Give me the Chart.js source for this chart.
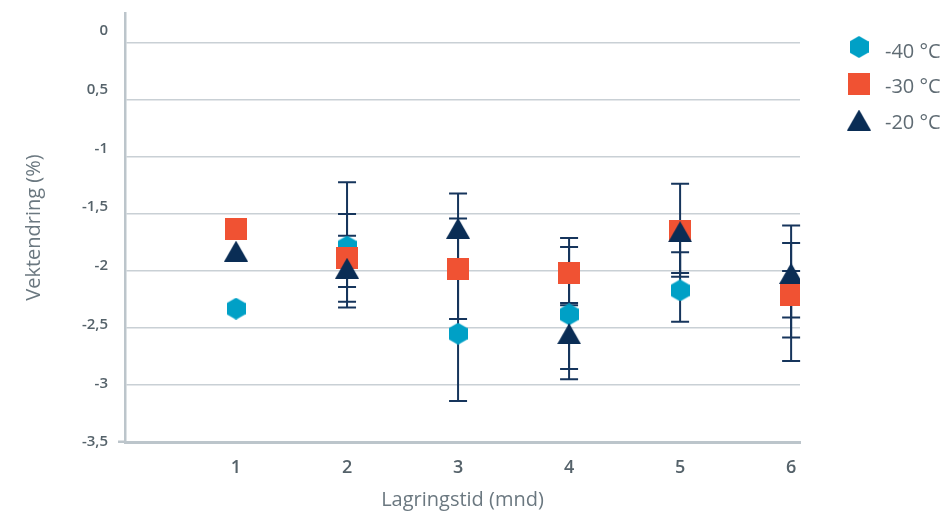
<!DOCTYPE html>
<html>
<head>
<meta charset="utf-8">
<script src="https://cdn.jsdelivr.net/npm/chart.js@4"></script>
<style>
  html, body { margin: 0; padding: 0; background: #fff; }
  #wrap { width: 948px; height: 515px; position: relative; }
</style>
</head>
<body>
<div id="wrap"><canvas id="chart"></canvas></div>
<script>
// ===== data =====
const months      = [1, 2, 3, 4, 5, 6];
const seriesNames = ['-40 °C', '-30 °C', '-20 °C'];

const minus40 = [-2.33, -1.785, -2.55, -2.38, -2.17, -2.21];
const minus30 = [-1.63, -1.885, -1.98, -2.02, -1.65, -2.21];
const minus20 = [-1.825, -1.975, -1.625, -2.55, -1.655, -2.02];

// error bar ends (high / low), null = no bar
const minus40Hi = [null, -1.22, -1.96, -1.79, -1.835, -1.6];
const minus40Lo = [null, -2.32, -3.14, -2.95, -2.445, -2.79];
const minus30Hi = [null, -1.5, -1.54, -1.71, -1.234, -1.753];
const minus30Lo = [null, -2.27, -2.42, -2.30, -2.05, -2.583];
const minus20Hi = [null, -1.69, -1.32, -2.28, -1.6, -2.0];
const minus20Lo = [null, -2.14, -1.96, -2.86, -2.017, -2.407];

const yTickValues = [0, -0.5, -1, -1.5, -2, -2.5, -3, -3.5];
const yTickLabels = ['0', '0,5', '-1', '-1,5', '-2', '-2,5', '-3', '-3,5'];

// ===== markers =====
function makeMarker(kind, color) {
  const c = document.createElement('canvas');
  let pts;
  if (kind === 'hex') {
    c.width = 19; c.height = 22;
    pts = [[9.5, 0], [19, 5.5], [19, 16.5], [9.5, 22], [0, 16.5], [0, 5.5]];
  } else if (kind === 'tri') {
    c.width = 24; c.height = 21;
    pts = [[12, 0], [24, 21], [0, 21]];
  } else {
    c.width = 22; c.height = 22;
    pts = [[0, 0], [22, 0], [22, 22], [0, 22]];
  }
  const g = c.getContext('2d');
  g.fillStyle = color;
  g.beginPath();
  pts.forEach(function(p, i) { if (i === 0) g.moveTo(p[0], p[1]); else g.lineTo(p[0], p[1]); });
  g.closePath();
  g.fill();
  return c;
}

const markers = [
  makeMarker('hex', '#00a0c6'),
  makeMarker('rect', '#f05233'),
  makeMarker('tri', '#0a2d55')
];

const values = [minus40, minus30, minus20];
const errHi  = [minus40Hi, minus30Hi, minus20Hi];
const errLo  = [minus40Lo, minus30Lo, minus20Lo];

// ===== plugins =====
const errorBars = {
  id: 'errorBars',
  beforeDatasetsDraw: function(chart) {
    const ctx = chart.ctx;
    const x = chart.scales.x, y = chart.scales.y;
    ctx.save();
    ctx.strokeStyle = '#16355c';
    ctx.lineWidth = 2;
    errHi.forEach(function(hi, s) {
      hi.forEach(function(h, i) {
        if (h === null) return;
        const px = x.getPixelForValue(months[i]);
        const y1 = y.getPixelForValue(h);
        const y2 = y.getPixelForValue(errLo[s][i]);
        ctx.beginPath();
        ctx.moveTo(px, y1); ctx.lineTo(px, y2);
        ctx.moveTo(px - 9, y1); ctx.lineTo(px + 9, y1);
        ctx.moveTo(px - 9, y2); ctx.lineTo(px + 9, y2);
        ctx.stroke();
      });
    });
    ctx.restore();
  }
};

const sideLegend = {
  id: 'sideLegend',
  afterDraw: function(chart) {
    const ctx = chart.ctx;
    ctx.save();
    ctx.font = '20px "Open Sans"';
    ctx.fillStyle = '#5f6b73';
    ctx.textBaseline = 'middle';
    chart.data.datasets.forEach(function(ds, i) {
      const img = ds.pointStyle;
      const cy = 47 + i * 36.5;
      ctx.drawImage(img, 859 - img.width / 2, cy - img.height / 2);
      ctx.fillText(ds.label, 885, 52 + i * 35.5);
    });
    ctx.restore();
  }
};

// ===== chart =====
const datasets = seriesNames.map(function(name, s) {
  return {
    label: name,
    data: months.map(function(m, i) { return { x: m, y: values[s][i] }; }),
    pointStyle: markers[s],
    pointRadius: 11,
    order: seriesNames.length - s
  };
});

const gridGray = '#c9d0d5';
const axisGray = '#bcc5cb';
const labelGray = '#55626a';
const titleGray = '#6b7880';

new Chart(document.getElementById('chart'), {
  type: 'scatter',
  data: { datasets: datasets },
  plugins: [errorBars, sideLegend],
  options: {
    responsive: true,
    maintainAspectRatio: false,
    animation: false,
    events: [],
    layout: { padding: { top: 13, right: 148, left: 0, bottom: 0 } },
    plugins: {
      legend: { display: false },
      tooltip: { enabled: false }
    },
    scales: {
      x: {
        type: 'linear',
        min: 0,
        max: 6.08,
        afterBuildTicks: function(scale) {
          scale.ticks = months.map(function(m) { return { value: m }; });
        },
        afterFit: function(scale) { scale.height = 73; },
        grid: { display: false, drawTicks: false },
        border: { display: true, color: axisGray, width: 3 },
        ticks: {
          padding: 15,
          color: labelGray,
          font: { family: 'Open Sans', size: 18, weight: '600' },
          callback: function(v) { return String(v); }
        },
        title: {
          display: true,
          text: 'Lagringstid (mnd)',
          color: titleGray,
          font: { family: 'Open Sans', size: 20 },
          padding: { top: 4, bottom: 3 }
        }
      },
      // data / grid axis
      y: {
        type: 'linear',
        position: 'left',
        weight: 0,
        min: -3.5,
        max: 0.264,
        afterBuildTicks: function(scale) {
          scale.ticks = yTickValues.map(function(v) { return { value: v }; });
        },
        afterFit: function(scale) { scale.width = 17; },
        grid: {
          color: function(c) { return c.tick && c.tick.value === -3.5 ? axisGray : gridGray; },
          lineWidth: 1.5,
          drawTicks: true,
          tickLength: 7,
          tickColor: function(c) { return c.tick && c.tick.value === -3.5 ? axisGray : 'rgba(0,0,0,0)'; },
          tickWidth: 2.5
        },
        border: { display: true, color: axisGray, width: 2.5 },
        ticks: { display: false }
      },
      // label axis (labels are spaced a little wider than the grid in the original)
      yl: {
        type: 'linear',
        position: 'left',
        weight: 1,
        min: -3.5,
        max: 0.151,
        afterBuildTicks: function(scale) {
          scale.ticks = yTickValues.map(function(v) { return { value: v }; });
        },
        afterFit: function(scale) { scale.width = 108; },
        grid: { display: false, drawTicks: false },
        border: { display: false },
        ticks: {
          padding: 0,
          color: labelGray,
          font: { family: 'Open Sans', size: 15, weight: '600' },
          callback: function(v) { return yTickLabels[yTickValues.indexOf(v)]; }
        },
        title: {
          display: true,
          text: 'Vektendring (%)',
          color: titleGray,
          font: { family: 'Open Sans', size: 20 },
          padding: { top: 22, bottom: 0 }
        }
      }
    }
  }
});
</script>
</body>
</html>
